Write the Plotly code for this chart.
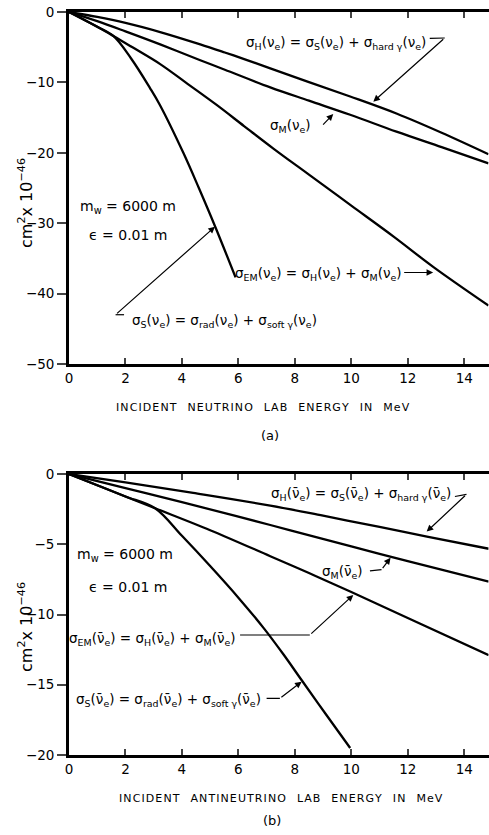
import plotly.graph_objects as go

# ---------------- data ----------------
# Panel (a): neutrino
xa_H = [0, 1, 2, 3.23, 4.65, 5.52, 6.18, 7.13, 8.5, 9.96, 11.62, 13.2, 14.86]
ya_H = [0, -0.7, -1.55, -2.85, -4.6, -5.75, -6.65, -8.0, -9.95, -12.0, -14.45, -17.15, -20.2]

xa_M = [0, 1, 2, 3.23, 4.65, 5.52, 7.13, 8.5, 9.96, 11.6, 13.2, 14.86]
ya_M = [0, -1.3, -2.75, -4.6, -6.85, -8.2, -10.7, -12.6, -14.6, -17.0, -19.2, -21.5]

xa_EM = [0, 1, 1.57, 2.2, 3.23, 4.2, 5.23, 6.2, 7.24, 8.5, 10, 11.5, 12.9, 14.86]
ya_EM = [0, -2.1, -3.4, -4.9, -7.4, -10.2, -13.2, -16.2, -19.4, -23.1, -27.5, -31.9, -36.2, -41.7]

xa_S = [0, 1, 1.57, 2.2, 2.87, 3.22, 4.05, 4.6, 5.18, 5.9]
ya_S = [0, -2.1, -3.4, -6.6, -10.8, -13.2, -20.0, -25.0, -30.5, -37.7]

# Panel (b): antineutrino
xb_H = [0, 2, 4.4, 7.13, 9, 11, 12.68, 14.87]
yb_H = [0, -0.6, -1.35, -2.25, -2.97, -3.77, -4.45, -5.32]

xb_M = [0, 2, 4, 7.13, 10, 12, 14.87]
yb_M = [0, -1.0, -2.0, -3.63, -5.15, -6.2, -7.66]

xb_EM = [0, 1, 2, 3.05, 5, 7.13, 8.5, 10, 12, 14.87]
yb_EM = [0, -0.8, -1.6, -2.44, -4.0, -5.85, -7.05, -8.4, -10.25, -12.9]

xb_S = [0, 1, 2, 3.05, 4, 5, 6, 6.89, 7.6, 8.25, 9.1, 9.96]
yb_S = [0, -0.8, -1.6, -2.44, -4.4, -6.55, -8.8, -10.95, -12.85, -14.7, -17.1, -19.5]

x_ticks = [0, 2, 4, 6, 8, 10, 12, 14]
x_ticklabels = ["0", "2", "4", "6", "8", "10", "12", "14"]
ya_ticks = [0, -10, -20, -30, -40, -50]
yb_ticks = [0, -5, -10, -15, -20]

# ---------------- figure ----------------
W, H = 489, 835
FONT = "DejaVu Sans"
LW = 2.3
FS = 13.5

fig = go.Figure()

def add_curve(x, y, xa, ya):
    fig.add_trace(go.Scatter(x=x, y=y, mode="lines", xaxis=xa, yaxis=ya,
                             line=dict(color="black", width=LW, shape="spline", smoothing=1.0),
                             hoverinfo="skip", showlegend=False))

for x, y in [(xa_H, ya_H), (xa_M, ya_M), (xa_EM, ya_EM), (xa_S, ya_S)]:
    add_curve(x, y, "x", "y")
for x, y in [(xb_H, yb_H), (xb_M, yb_M), (xb_EM, yb_EM), (xb_S, yb_S)]:
    add_curve(x, y, "x2", "y2")

xdom = [69 / W, 488.5 / W]
ydom_a = [1 - 364 / H, 1 - 12 / H]
ydom_b = [1 - 755 / H, 1 - 474 / H]
XMAX = 14.86

xcommon = dict(range=[0, XMAX], tickvals=x_ticks, ticktext=x_ticklabels, ticks="inside",
               ticklen=6, tickwidth=2, showline=True, linewidth=2.7, linecolor="black",
               mirror="ticks", showgrid=False, zeroline=False,
               tickfont=dict(size=13.5, family=FONT, color="black"), domain=xdom)
ycommon = dict(ticks="outside", ticklen=9, tickwidth=2, showline=True, linewidth=2.7,
               linecolor="black", mirror=True, showgrid=False, zeroline=False,
               tickfont=dict(size=13.5, family=FONT, color="black"))
yright = dict(side="right", ticks="inside", ticklen=6, tickwidth=2, showticklabels=False,
              showline=False, showgrid=False, zeroline=False)

fig.update_layout(
    width=W, height=H, margin=dict(l=0, r=0, t=0, b=0, autoexpand=False),
    paper_bgcolor="white", plot_bgcolor="white",
    font=dict(family=FONT, color="black", size=13),
    showlegend=False,
    xaxis=dict(anchor="y", **xcommon),
    yaxis=dict(anchor="x", domain=ydom_a, range=[-50, 0], tickvals=ya_ticks, **ycommon),
    xaxis2=dict(anchor="y2", **xcommon),
    yaxis2=dict(anchor="x2", domain=ydom_b, range=[-20, 0], tickvals=yb_ticks, **ycommon),
    yaxis3=dict(anchor="x", overlaying="y", range=[-50, 0], tickvals=ya_ticks, **yright),
    yaxis4=dict(anchor="x2", overlaying="y2", range=[-20, 0], tickvals=yb_ticks, **yright),
)

ann = []
shapes = []

def text(x, y, s, xr, yr, size=FS, anchor="center"):
    ann.append(dict(x=x, y=y, xref=xr, yref=yr, text=s, showarrow=False,
                    xanchor=anchor, yanchor="middle", font=dict(size=size, family=FONT, color="black")))

def arrow(x0, y0, x1, y1, xr, yr):
    ann.append(dict(x=x1, y=y1, ax=x0, ay=y0, xref=xr, yref=yr, axref=xr, ayref=yr,
                    text="", showarrow=True, arrowhead=2, arrowsize=1.1, arrowwidth=1.2,
                    arrowcolor="black", standoff=0))

def seg(x0, y0, x1, y1, xr, yr):
    shapes.append(dict(type="line", x0=x0, y0=y0, x1=x1, y1=y1, xref=xr, yref=yr,
                       line=dict(color="black", width=1.2)))

nu = "ν<sub>e</sub>"
nb = "ν\u0304<sub>e</sub>"

# ---- panel (a) labels ----
text(9.45, -4.45, f"σ<sub>H</sub>({nu}) = σ<sub>S</sub>({nu}) + σ<sub>hard γ</sub>({nu})", "x", "y")
seg(12.78, -3.74, 13.31, -3.69, "x", "y")
arrow(13.31, -3.69, 10.78, -12.74, "x", "y")

text(7.85, -16.2, f"σ<sub>M</sub>({nu})", "x", "y")
arrow(8.95, -16.2, 9.36, -14.5, "x", "y")

text(8.85, -37.2, f"σ<sub>EM</sub>({nu}) = σ<sub>H</sub>({nu}) + σ<sub>M</sub>({nu})", "x", "y")
arrow(11.82, -37.0, 12.9, -37.0, "x", "y")

text(5.5, -43.9, f"σ<sub>S</sub>({nu}) = σ<sub>rad</sub>({nu}) + σ<sub>soft γ</sub>({nu})", "x", "y")
seg(1.65, -43.0, 1.95, -43.0, "x", "y")
arrow(1.65, -43.0, 5.17, -30.5, "x", "y")

text(2.1, -27.7, "m<sub>w</sub> = 6000 m", "x", "y", size=14)
text(2.1, -31.7, "ϵ = 0.01 m", "x", "y", size=14)

# ---- panel (b) labels ----
text(10.33, -1.4, f"σ<sub>H</sub>({nb}) = σ<sub>S</sub>({nb}) + σ<sub>hard γ</sub>({nb})", "x2", "y2")
seg(13.67, -1.6, 14.08, -1.45, "x2", "y2")
arrow(14.08, -1.45, 12.67, -4.1, "x2", "y2")

text(9.7, -6.95, f"σ<sub>M</sub>({nb})", "x2", "y2")
seg(10.66, -6.9, 11.07, -6.8, "x2", "y2")
arrow(11.07, -6.8, 11.39, -5.96, "x2", "y2")

text(2.96, -11.75, f"σ<sub>EM</sub>({nb}) = σ<sub>H</sub>({nb}) + σ<sub>M</sub>({nb})", "x2", "y2")
seg(6.06, -11.46, 8.53, -11.46, "x2", "y2")
arrow(8.53, -11.46, 10.07, -8.61, "x2", "y2")

text(3.54, -16.05, f"σ<sub>S</sub>({nb}) = σ<sub>rad</sub>({nb}) + σ<sub>soft γ</sub>({nb})", "x2", "y2")
seg(7.0, -15.97, 7.47, -15.97, "x2", "y2")
arrow(7.47, -15.97, 8.24, -14.78, "x2", "y2")

text(2.0, -5.8, "m<sub>w</sub> = 6000 m", "x2", "y2", size=14)
text(2.09, -8.05, "ϵ = 0.01 m", "x2", "y2", size=14)

# ---- axis titles and panel tags (paper coords) ----
def ptext(px, py, s, size=12, angle=0):
    ann.append(dict(x=px / W, y=1 - py / H, xref="paper", yref="paper", text=s, showarrow=False,
                    xanchor="center", yanchor="middle", textangle=angle,
                    font=dict(size=size, family=FONT, color="black")))

def spaced(s):
    words = s.split(" ")
    return "\u2003".join("\u200a".join(w) for w in words)

ptext(263, 407, spaced("INCIDENT NEUTRINO LAB ENERGY IN MeV"), size=11)
ptext(270, 435, "(a)", size=13)
ptext(25, 203, "cm<sup>2</sup>x 10<sup>−46</sup>", size=16, angle=-90)

ptext(281, 798, spaced("INCIDENT ANTINEUTRINO LAB ENERGY IN MeV"), size=11)
ptext(272, 820, "(b)", size=13)
ptext(25, 627, "cm<sup>2</sup>x 10<sup>−46</sup>", size=16, angle=-90)

fig.update_layout(annotations=ann, shapes=shapes)

fig.write_html("out.html", config={"displayModeBar": False},
               post_script="document.body.style.margin='0';document.body.style.overflow='hidden';")
